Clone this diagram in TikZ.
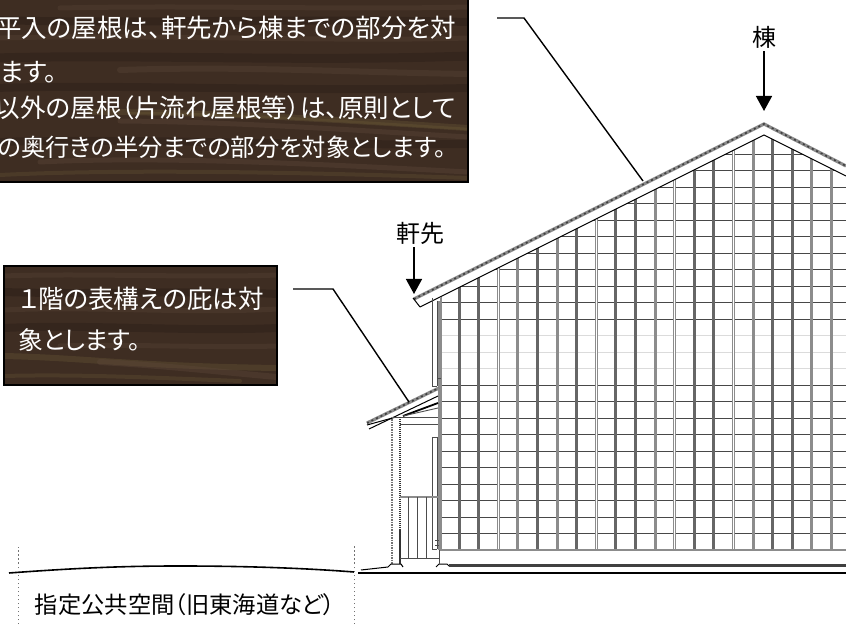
\documentclass[tikz,border=0pt]{standalone}
\usepackage{fontspec}
\newfontfamily\jpfont[RawFeature=+palt]{Noto Sans CJK JP}
\tikzset{
  woodText/.style={text=white,inner sep=0pt,outer sep=0pt,font=\jpfont\fontsize{25.5}{25.5}\selectfont},
  plainText/.style={text=black,inner sep=0pt,outer sep=3pt,font=\jpfont\fontsize{24}{24}\selectfont},
  woodEdge/.style={draw=black,line width=1.5pt},
  woodStreak/.style={line cap=round,line join=round},
  leaderLine/.style={draw=black,line width=1.4pt,line join=miter},
  pointerLine/.style={draw=black,line width=1.4pt,-{Stealth[length=15pt,width=16pt,inset=0pt]}},
  gridRow/.style={draw=black!72,line width=0.9pt},
  gridFaint/.style={draw=black!14,line width=0.8pt},
  postDark/.style={draw=black!60,line width=3pt},
  postMid/.style={draw=black!45,line width=3pt},
  postCore/.style={draw=white,line width=1pt},
  wallLine/.style={draw=black!70,line width=0.9pt},
  wallPale/.style={draw=black!45,line width=1.1pt},
  tileBand/.style={draw=black!45,line width=3.2pt},
  tileSpots/.style={draw=black!75,line width=1.6pt,dash pattern=on 2pt off 3pt},
  roofLine/.style={draw=black,line width=1pt},
  groundLine/.style={draw=black,line width=1.6pt},
  limitLine/.style={draw=black!55,line width=1pt,dash pattern=on 1.5pt off 2.5pt}
}
\usetikzlibrary{arrows.meta}
\begin{document}
\begin{tikzpicture}[x=1pt,y=1pt]
\definecolor{fillColor}{RGB}{255,255,255}
\definecolor{woodColor}{RGB}{62,45,34}
\definecolor{darkGrain}{RGB}{44,31,24}
\definecolor{paleGrain}{RGB}{92,72,58}
\definecolor{oliveGrain}{RGB}{100,84,52}
\path[use as bounding box,fill=fillColor] (0,0) rectangle (846,624);

% upper sign
\begin{scope}
\path[clip] (-5,442) rectangle (468,630);
\path[fill=woodColor] (-5,442) rectangle (468,630);
\path[woodStreak,draw=paleGrain,line width=5pt,opacity=0.3] (60,616) .. controls (200,619) and (340,614) .. (468,617);
\path[woodStreak,draw=darkGrain,line width=8pt,opacity=0.5] (-5,604) .. controls (120,600) and (300,606) .. (468,602);
\path[woodStreak,draw=paleGrain,line width=5pt,opacity=0.3] (0,586) .. controls (150,590) and (330,582) .. (468,586);
\path[woodStreak,draw=darkGrain,line width=9pt,opacity=0.45] (-5,566) .. controls (140,570) and (300,562) .. (468,568);
\path[woodStreak,draw=paleGrain,line width=6pt,opacity=0.35] (120,554) .. controls (240,558) and (340,552) .. (468,550);
\path[woodStreak,draw=darkGrain,line width=8pt,opacity=0.45] (-5,536) .. controls (120,540) and (300,532) .. (468,536);
\path[woodStreak,draw=oliveGrain,line width=6pt,opacity=0.4] (90,512) .. controls (220,512) and (340,504) .. (468,496);
\path[woodStreak,draw=oliveGrain,line width=2.5pt,opacity=0.45] (130,511) .. controls (240,510) and (340,503) .. (468,495);
\path[woodStreak,draw=paleGrain,line width=5pt,opacity=0.4] (120,503) .. controls (240,502) and (350,494) .. (468,487);
\path[woodStreak,draw=darkGrain,line width=8pt,opacity=0.45] (-5,482) .. controls (140,486) and (300,478) .. (468,480);
\path[woodStreak,draw=paleGrain,line width=5pt,opacity=0.4] (40,462) .. controls (160,468) and (320,460) .. (468,452);
\path[woodStreak,draw=oliveGrain,line width=4pt,opacity=0.35] (0,449) .. controls (120,455) and (300,452) .. (468,446);
\end{scope}
\path[woodEdge] (-5,442) rectangle (468,630);
\node[woodText,anchor=east] (topLineOne) at (456,596) {平入の屋根は、軒先から棟までの部分を対};
\node[woodText,anchor=west] (topLineTwo) at (0,552) {ます。};
\node[woodText,anchor=east] (topLineThree) at (456,516) {以外の屋根（片流れ屋根等）は、原則として};
\node[woodText,anchor=east,scale=0.95] (topLineFour) at (446,477) {の奥行きの半分までの部分を対象とします。};

% lower sign
\begin{scope}
\path[clip] (4,239) rectangle (277,358);
\path[fill=woodColor] (4,239) rectangle (277,358);
\path[woodStreak,draw=paleGrain,line width=5pt,opacity=0.3] (4,348) .. controls (80,351) and (200,346) .. (277,349);
\path[woodStreak,draw=darkGrain,line width=8pt,opacity=0.5] (4,332) .. controls (90,329) and (200,334) .. (277,330);
\path[woodStreak,draw=paleGrain,line width=5pt,opacity=0.3] (4,314) .. controls (90,318) and (190,310) .. (277,315);
\path[woodStreak,draw=darkGrain,line width=8pt,opacity=0.45] (4,296) .. controls (90,300) and (190,292) .. (277,296);
\path[woodStreak,draw=paleGrain,line width=5pt,opacity=0.3] (60,278) .. controls (130,280) and (210,276) .. (277,278);
\path[woodStreak,draw=oliveGrain,line width=6pt,opacity=0.4] (4,268) .. controls (90,266) and (130,258) .. (277,256);
\path[woodStreak,draw=paleGrain,line width=6pt,opacity=0.4] (100,262) .. controls (170,258) and (220,252) .. (277,247);
\path[woodStreak,draw=oliveGrain,line width=4pt,opacity=0.35] (4,248) .. controls (80,250) and (160,246) .. (240,243);
\end{scope}
\path[woodEdge] (4,239) rectangle (277,358);
\node[woodText,anchor=west] (lowLineOne) at (19,325) {１階の表構えの庇は対};
\node[woodText,anchor=west,scale=0.97] (lowLineTwo) at (18,284) {象とします。};

% wall grid
\begin{scope}
\path[clip] (441,74) -- (441,327.5) -- (764,489) -- (846,448) -- (846,74) -- cycle;
\path[gridRow] (441,470.0) -- (846,470.0);
\path[gridRow] (441,453.5) -- (846,453.5);
\path[gridRow] (441,437.0) -- (846,437.0);
\path[gridRow] (441,420.5) -- (846,420.5);
\path[gridRow] (441,404.0) -- (846,404.0);
\path[gridRow] (441,387.5) -- (846,387.5);
\path[gridRow] (441,371.0) -- (846,371.0);
\path[gridRow] (441,354.5) -- (846,354.5);
\path[gridRow] (441,338.0) -- (846,338.0);
\path[gridRow] (441,321.5) -- (846,321.5);
\path[gridRow] (441,305.0) -- (846,305.0);
\path[gridFaint] (441,288.5) -- (846,288.5);
\path[gridFaint] (441,272.0) -- (846,272.0);
\path[gridFaint] (441,255.5) -- (846,255.5);
\path[gridRow] (441,239.0) -- (846,239.0);
\path[gridRow] (441,222.5) -- (846,222.5);
\path[gridRow] (441,206.0) -- (846,206.0);
\path[gridRow] (441,189.5) -- (846,189.5);
\path[gridRow] (441,173.0) -- (846,173.0);
\path[gridRow] (441,156.5) -- (846,156.5);
\path[gridRow] (441,140.0) -- (846,140.0);
\path[gridRow] (441,123.5) -- (846,123.5);
\path[gridRow] (441,107.0) -- (846,107.0);
\path[gridRow] (441, 90.5) -- (846, 90.5);
\path[postDark] (459.0,74) -- (459.0,500);
\path[postDark] (478.6,74) -- (478.6,500);
\path[postMid] (498.2,74) -- (498.2,500);
\path[postCore] (498.2,74) -- (498.2,500);
\path[postMid] (517.8,74) -- (517.8,500);
\path[postDark] (537.4,74) -- (537.4,500);
\path[postMid] (557.0,74) -- (557.0,500);
\path[postDark] (576.6,74) -- (576.6,500);
\path[postMid] (596.2,74) -- (596.2,500);
\path[postCore] (596.2,74) -- (596.2,500);
\path[postDark] (615.8,74) -- (615.8,500);
\path[postDark] (635.4,74) -- (635.4,500);
\path[postMid] (655.0,74) -- (655.0,500);
\path[postMid] (674.7,74) -- (674.7,500);
\path[postCore] (674.7,74) -- (674.7,500);
\path[postDark] (694.3,74) -- (694.3,500);
\path[postDark] (713.9,74) -- (713.9,500);
\path[postMid] (733.5,74) -- (733.5,500);
\path[postCore] (733.5,74) -- (733.5,500);
\path[postMid] (753.1,74) -- (753.1,500);
\path[postDark] (772.7,74) -- (772.7,500);
\path[postDark] (792.3,74) -- (792.3,500);
\path[postMid] (811.9,74) -- (811.9,500);
\path[postMid] (831.5,74) -- (831.5,500);
\end{scope}
\path[draw=black!45,line width=1.8pt] (439,74) -- (846,74);

% main roof
\path[tileBand] (414,325) -- (764,500) -- (846,458);
\path[tileSpots] (414,325) -- (764,500) -- (846,458);
\path[roofLine] (420,317) -- (764,489) -- (846,448);
\path[roofLine] (413,326) -- (420,317);

% wall edge and pipes
\path[wallPale] (439,74) -- (439,323);
\path[wallPale] (441,74) -- (441,327);
\path[wallLine] (432,326) -- (432,238);
\path[wallLine] (437,323) -- (437,238);
\path[wallLine] (432,238) -- (437,238);
\path[wallLine] (437,246) -- (441,246);
\path[wallLine] (432,187) -- (432,75);
\path[wallLine] (437,187) -- (437,75);
\path[wallLine] (432,187) -- (437,187);
\path[wallLine] (432,75) -- (437,75);
\path[wallLine] (435,84) -- (439,84);
\path[wallLine] (435,79) -- (439,79);

% porch
\path[tileBand] (367,201) -- (439,236);
\path[tileSpots] (367,201) -- (439,236);
\path[roofLine] (369,195) -- (438,228);
\path[roofLine] (367,199) -- (396,207);
\path[draw=black,line width=1.8pt] (403,208) -- (438,221);
\path[wallLine] (403,208) -- (438,216);
\path[wallLine] (392,207) -- (438,207);
\path[wallLine] (400,200) -- (438,200);
\path[draw=black!55,line width=1.6pt,dash pattern=on 1.5pt off 1pt] (392,207) -- (392,60);
\path[draw=black!80,line width=1.4pt,dash pattern=on 1.5pt off 0.5pt] (400,207) -- (400,60);
\path[draw=black!45,line width=2pt] (400,127) -- (438,127);
\path[wallLine] (408,127) -- (408,66);
\path[wallLine] (417,127) -- (417,66);
\path[wallLine] (426,127) -- (426,66);
\path[wallLine] (400,66) -- (439,66);

% footing and ground
\path[draw=black,line width=1pt] (388,57) -- (391,60) -- (401,60) -- (403,57);
\path[draw=black,line width=1pt] (436,57) -- (439,60) -- (447,60) -- (449,58);
\path[draw=black!70,line width=1pt] (439,74) -- (439,60);
\path[draw=black!75,line width=2.2pt] (449,58.5) -- (846,58.5);
\path[draw=black,line width=1pt] (361,54) -- (388,57);
\path[groundLine] (358,51) -- (846,51);
\path[groundLine] (9,51) .. controls (90,57) and (135,58) .. (180,58) .. controls (225,58) and (290,57) .. (354,52);

% limits of the public space
\path[limitLine] (18,0) -- (18,77);
\path[limitLine] (354.5,0) -- (354.5,79);

% labels and leaders
\coordinate (roofStart) at (497,606);
\coordinate (roofBend) at (524,606);
\coordinate (roofEnd) at (643,443);
\path[leaderLine] (roofStart) -- (roofBend) -- (roofEnd);

\coordinate (porchStart) at (293,335);
\coordinate (porchBend) at (333,335);
\coordinate (porchEnd) at (409,222);
\path[leaderLine] (porchStart) -- (porchBend) -- (porchEnd);

\node[plainText] (ridgeLabel) at (764,587) {棟};
\coordinate (ridgeTip) at (764,513);
\path[pointerLine] (ridgeLabel) -- (ridgeTip);

\node[plainText] (eaveLabel) at (420,391) {軒先};
\coordinate (eaveTip) at (414,330);
\path[pointerLine] (eaveLabel.south -| eaveTip) -- (eaveTip);

\node[plainText,anchor=west,scale=0.97] (spaceLabel) at (32,19) {指定公共空間（旧東海道など）};
\end{tikzpicture}
\end{document}
